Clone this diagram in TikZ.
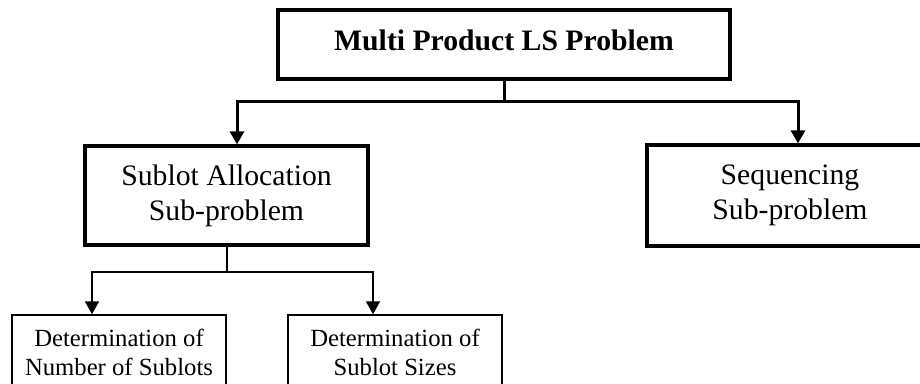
\documentclass[tikz,border=0pt]{standalone}
\usepackage{fontspec}
\setmainfont{Liberation Serif}
\usetikzlibrary{
  arrows.meta % For arrow tips
}

\begin{document}
\begin{tikzpicture}[
    x=1pt, y=-1pt, % y runs downwards
    >={Triangle[length=13pt,width=14pt]}, % Default arrow tip
    mainbox/.style={draw, line width=3.2pt, align=center, inner sep=0pt}, % thick frames
    subbox/.style={draw, line width=1.5pt, align=center, inner sep=0pt}, % thin frames
    trunk/.style={line width=3pt}, % upper links
    branch/.style={line width=2pt}, % lower links
  ]

  \def\bigfont{\fontsize{29.7}{35}\selectfont}
  \def\smallfont{\fontsize{24.7}{29}\selectfont}

  \useasboundingbox (0,0) rectangle (920,383);
  \clip (0,0) rectangle (920,383);

  % Gesamtproblem
  \node[mainbox, minimum width=452pt, minimum height=69pt, text depth=9pt,
        font=\bfseries\bigfont] (lsp) at (504,44.5) {Multi Product LS Problem};

  % Teilprobleme
  \node[mainbox, minimum width=283pt, minimum height=99pt, font=\bigfont]
    (alloc) at (226.5,195.5) {Sublot Allocation\\Sub-problem};
  \node[mainbox, minimum width=286pt, minimum height=101pt, font=\bigfont]
    (seq) at (790,195.5) {Sequencing\\Sub-problem};

  % Unterprobleme der Allokation
  \node[subbox, minimum width=214pt, minimum height=74pt, font=\smallfont]
    (nsub) at (119,352) {Determination of\\Number of Sublots};
  \node[subbox, minimum width=214pt, minimum height=74pt, font=\smallfont]
    (ssize) at (395,352) {Determination of\\Sublot Sizes};

  % obere Verzweigung
  \draw[trunk] (lsp.south) -- ++(0,21) coordinate (split);
  \draw[trunk, ->] (split) -| ([xshift=10.5pt]alloc.north);
  \draw[trunk, ->] (split) -| ([xshift=8pt]seq.north);

  % untere Verzweigung
  \draw[branch] (alloc.south) -- ++(0,25) coordinate (fork);
  \draw[branch, ->] (fork) -| ([xshift=-27pt]nsub.north);
  \draw[branch, ->] (fork) -| ([xshift=-22pt]ssize.north);

\end{tikzpicture}
\end{document}
